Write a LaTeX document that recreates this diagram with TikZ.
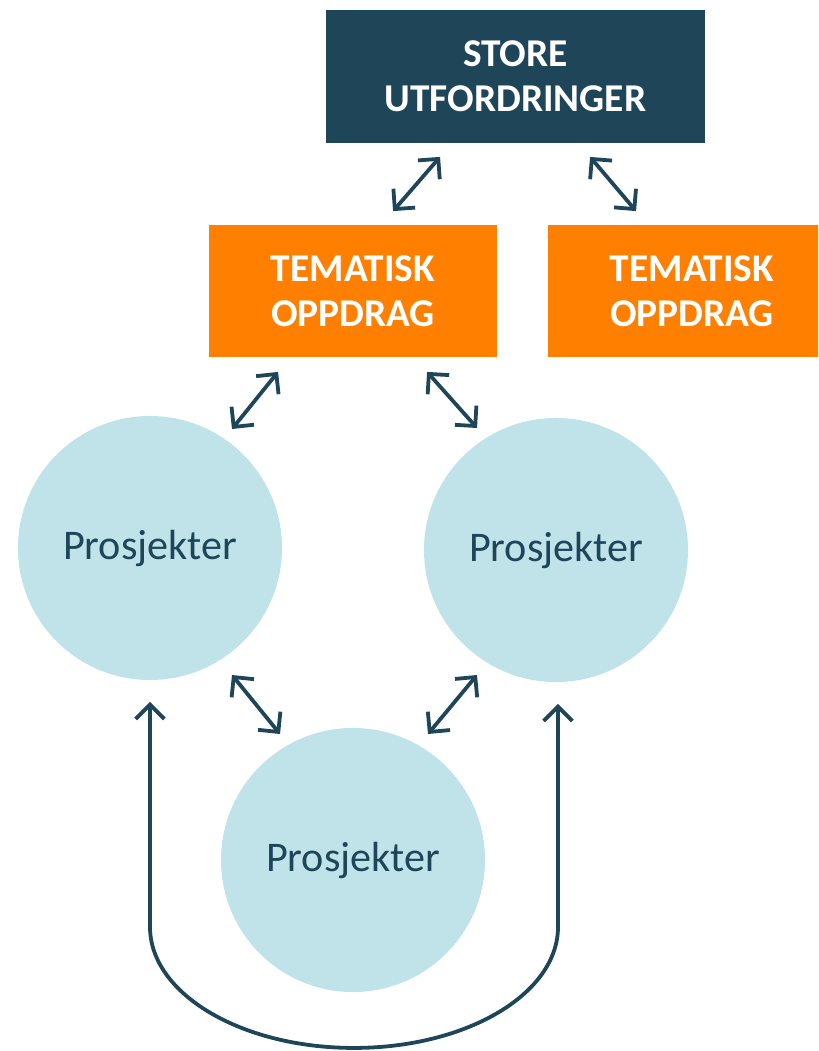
\documentclass[tikz,border=0pt]{standalone}
\usepackage{fontspec}
\setmainfont{Carlito}
\usetikzlibrary{arrows.meta,calc}

\definecolor{darkblue}{RGB}{31,69,89}
\definecolor{tangerine}{RGB}{255,128,0}
\definecolor{lightblue}{RGB}{192,227,234}

\begin{document}
\begin{tikzpicture}[
                        <->,
                        >={Straight Barb[length=3.6mm,width=7.2mm]},
                        x=0.025cm,
                        y=0.025cm,
                        line width=2.7pt,
                        line cap=round,
                        draw=darkblue
                    ]
                    \tikzstyle{challenge}=[fill=darkblue,text=white,align=center,font=\fontsize{28}{32}\selectfont\bfseries,minimum width=9.475cm,minimum height=3.325cm]
                    \tikzstyle{mission}=[fill=tangerine,text=white,align=center,font=\fontsize{28}{32}\selectfont\bfseries,minimum width=7.2cm,minimum height=3.3cm]
                    \tikzstyle{project}=[circle,fill=lightblue,text=darkblue,font=\fontsize{30}{34}\selectfont,minimum size=6.6cm,inner sep=0pt]

                    \useasboundingbox (0,0) rectangle (818,-1051);
                    \clip (0,0) rectangle (818,-1051);

                    \node[challenge] (store) at (515.5,-76.5) {STORE\\UTFORDRINGER};
                    \node[mission]   (tema1) at (353,-291)    {TEMATISK\\OPPDRAG};
                    \node[mission]   (tema2) at (692,-291)    {TEMATISK\\OPPDRAG};
                    \node[project]   (prosA) at (150,-548)    {Prosjekter};
                    \node[project]   (prosB) at (556,-550)    {Prosjekter};
                    \node[project]   (prosC) at (353,-860)    {Prosjekter};

                    \draw ($(store.south west)+(116,-12)$) -- ($(tema1.north west)+(186,12)$);
                    \draw ($(store.south west)+(266,-12)$) -- ($(tema2.north west)+(90,12)$);
                    \draw ($(tema1.south west)+(71,-13)$)  -- ($(prosA)+(82,119)$);
                    \draw ($(tema1.south west)+(220,-13)$) -- ($(prosB)+(-79,122)$);
                    \draw ($(prosA)+(82,-127)$)            -- ($(prosC)+(-73,126)$);
                    \draw ($(prosB)+(-79,-125)$)           -- ($(prosC)+(75,126)$);

                    % loop under the bottom circle
                    \draw ($(prosA.south)+(0,-20)$) -- ++(0,-225)
                          arc[start angle=180,end angle=360,x radius=204,y radius=121]
                          -- ($(prosB.south)+(2,-20)$);
                \end{tikzpicture}
\end{document}
